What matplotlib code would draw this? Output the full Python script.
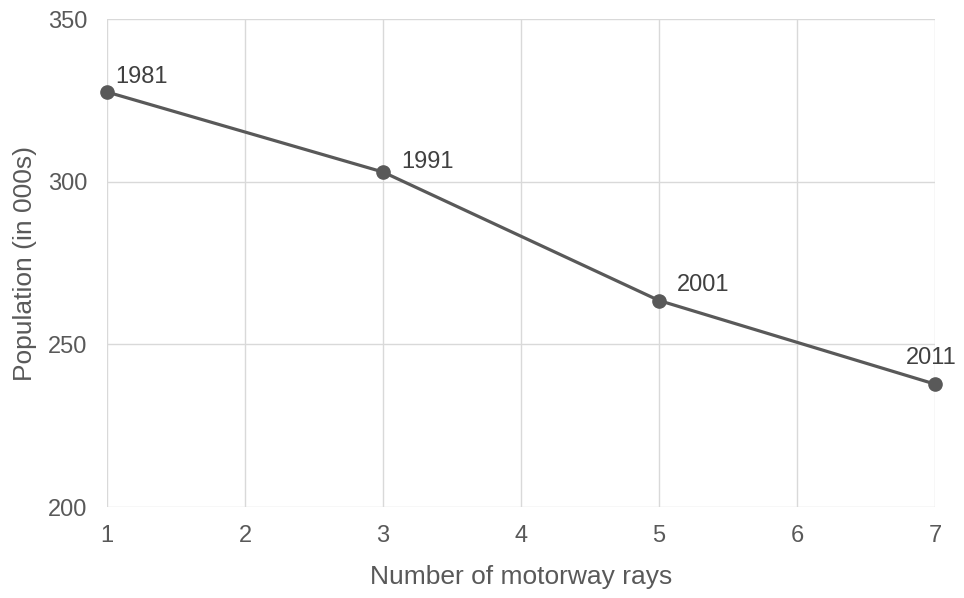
import matplotlib.pyplot as plt

plt.rcParams['font.family'] = ['Liberation Sans', 'DejaVu Sans']

rays = [1, 3, 5, 7]
population = [327.6, 303.0, 263.5, 237.8]
years = ['1981', '1991', '2001', '2011']
# label offsets in points (dx, dy, ha)
offsets = [(6, 11, 'left'), (13, 7, 'left'), (13, 11, 'left'), (-3, 19, 'center')]

fig = plt.figure(figsize=(9.64, 5.98), dpi=100)
ax = fig.add_axes([0.111, 0.152, 0.859, 0.816])

ax.plot(rays, population, color='#595959', lw=2.3, marker='o', ms=9.5, zorder=3, clip_on=False)

for x, y, t, (dx, dy, ha) in zip(rays, population, years, offsets):
    ax.annotate(t, (x, y), xytext=(dx, dy), textcoords='offset points',
                ha=ha, va='center', fontsize=17, color='#404040')

ax.set_xlim(1, 7)
ax.set_ylim(200, 350)
ax.set_xticks(range(1, 8))
ax.set_yticks([200, 250, 300, 350])
ax.grid(True, color='#d9d9d9', lw=1.0)
ax.set_axisbelow(True)
for s in ax.spines.values():
    s.set_visible(False)
ax.tick_params(length=0, labelsize=17, labelcolor='#595959')
ax.tick_params(axis='x', pad=13)
ax.tick_params(axis='y', pad=14)

ax.set_xlabel('Number of motorway rays', fontsize=19, color='#595959', labelpad=13)
ax.set_ylabel('Population (in 000s)', fontsize=19, color='#595959', labelpad=8)

fig.savefig('out.png', dpi=100)
